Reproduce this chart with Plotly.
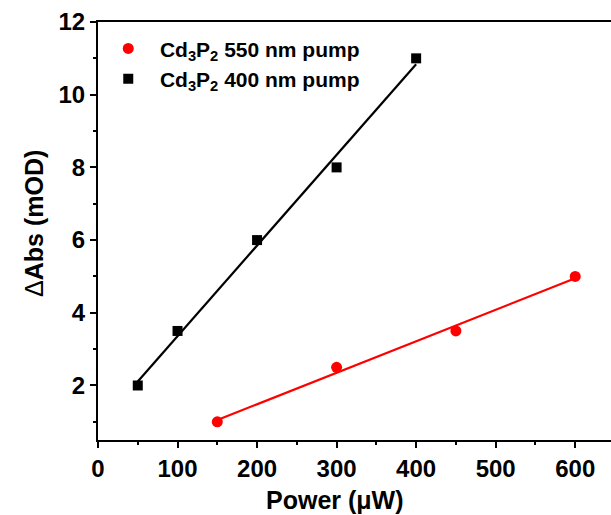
import numpy as np
import plotly.graph_objects as go

# Data
power_400 = [50, 100, 200, 300, 400]
abs_400 = [2.0, 3.5, 6.0, 8.0, 11.0]
power_550 = [150, 300, 450, 600]
abs_550 = [1.0, 2.5, 3.5, 5.0]

x_ticks = [0, 100, 200, 300, 400, 500, 600]
y_ticks = [2, 4, 6, 8, 10, 12]

name_550 = "\u00a0\u00a0<b>Cd<sub>3</sub>P<sub>2</sub> 550 nm pump</b>"
name_400 = "\u00a0\u00a0<b>Cd<sub>3</sub>P<sub>2</sub> 400 nm pump</b>"
x_title = "<b>Power (μW)</b>"
y_title = "Δ<b>Abs (mOD)</b>"

def fit(x, y):
    k, b = np.polyfit(x, y, 1)
    xs = np.array([min(x), max(x)])
    return xs, k * xs + b

fig = go.Figure()
fx, fy = fit(power_550, abs_550)
fig.add_trace(go.Scatter(x=fx, y=fy, mode="lines", line=dict(color="#FF0000", width=2.2), showlegend=False, hoverinfo="skip"))
fx, fy = fit(power_400, abs_400)
fig.add_trace(go.Scatter(x=fx, y=fy, mode="lines", line=dict(color="black", width=2.2), showlegend=False, hoverinfo="skip"))
fig.add_trace(go.Scatter(x=power_550, y=abs_550, mode="markers", name=name_550,
                         marker=dict(symbol="circle", size=11, color="#FF0000")))
fig.add_trace(go.Scatter(x=power_400, y=abs_400, mode="markers", name=name_400,
                         marker=dict(symbol="square", size=10, color="black")))

axis_common = dict(
    showline=True, linecolor="black", linewidth=2.2,
    ticks="outside", ticklen=6, tickwidth=2, tickcolor="black",
    showgrid=False, zeroline=False, automargin=False,
    tickfont=dict(family="Liberation Sans", size=24, color="black"),
)

fig.update_layout(
    width=611, height=515,
    margin=dict(l=98, r=0, t=22, b=75),
    plot_bgcolor="white", paper_bgcolor="white",
    font=dict(family="Liberation Sans", color="black"),
    xaxis=dict(range=[0, 645], tickvals=x_ticks, ticktext=[f"<b>{v}</b>" for v in x_ticks], mirror=True,
               minor=dict(ticks="outside", ticklen=3, tickwidth=2, tickcolor="black", dtick=50, tick0=0),
               **axis_common),
    yaxis=dict(range=[0.5, 12], tickvals=y_ticks, ticktext=[f"<b>{v}</b>" for v in y_ticks], mirror=False,
               minor=dict(ticks="outside", ticklen=3, tickwidth=2, tickcolor="black", dtick=1, tick0=0),
               **axis_common),
    legend=dict(x=0.02, y=0.985, xanchor="left", yanchor="top", bgcolor="rgba(0,0,0,0)",
                font=dict(family="Liberation Sans", size=21, color="black"),
                tracegroupgap=4),
    showlegend=True,
    annotations=[
        dict(text=x_title, xref="paper", yref="paper", x=0.462, y=-0.1435,
             xanchor="center", yanchor="middle", showarrow=False,
             font=dict(family="Liberation Sans", size=25, color="black")),
        dict(text=y_title, xref="paper", yref="paper", x=-0.125, y=0.519, textangle=-90,
             xanchor="center", yanchor="middle", showarrow=False,
             font=dict(family="Liberation Sans", size=25, color="black")),
    ],
)

fig.write_html("out.html", config={"displayModeBar": False},
               post_script="document.body.style.margin='0';document.body.style.overflow='hidden';")
